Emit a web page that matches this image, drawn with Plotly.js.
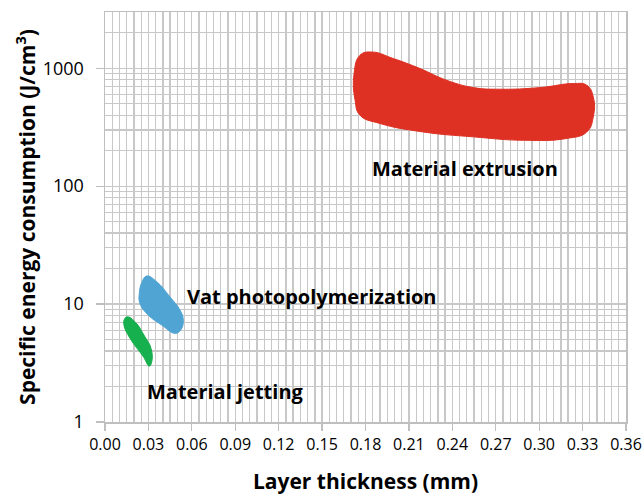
<!DOCTYPE html>
<html><head><meta charset="utf-8">
<script src="https://cdn.plot.ly/plotly-3.0.1.min.js"></script>
<style>html,body{margin:0;padding:0;background:#fff}</style>
</head><body><div id="chart" style="width:644px;height:496px"></div>
<script>
// Region outlines (layer thickness mm, specific energy J/cm3)
const extrusionX = [0.1762,0.1843,0.1993,0.2177,0.2361,0.2545,0.2729,0.3006,0.3236,0.3329,0.3374,0.3374,0.3329,0.3191,0.2891,0.2545,0.2200,0.1900,0.1762,0.1728,0.1721];
const extrusionY = [1289,1374,1208,994,791,686,664,686,742,718,571,387,288,254,245,262,288,340,400,535,902];
const vatX = [0.0288,0.0357,0.0449,0.0518,0.0541,0.0523,0.0484,0.0392,0.0299,0.0242,0.0237,0.0256];
const vatY = [17.3,15.5,11.5,8.9,7.32,6.02,5.65,6.64,8.07,10.1,12.3,15.4];
const jetX = [0.0154,0.0207,0.0276,0.0318,0.0323,0.0306,0.0265,0.0173,0.0131,0.0135];
const jetY = [7.8,7.08,5.28,4.21,3.24,2.98,3.58,5.12,6.64,7.46];
const regionNames = ["Material extrusion","Vat photopolymerization","Material jetting"];
const xTicks = [0,0.03,0.06,0.09,0.12,0.15,0.18,0.21,0.24,0.27,0.30,0.33,0.36];
const xTickText = xTicks.map(v=>v.toFixed(2));
const yTicks = [1,10,100,1000];
const yTickText = ['1','10','100','1000'];

function blob(x,y,color,name){
  return {x:x.concat([x[0]]), y:y.concat([y[0]]), type:'scatter', mode:'lines', fill:'toself',
    fillcolor:color, line:{color:color, width:1, shape:'spline', smoothing:1.3}, name:name, hoverinfo:'skip'};
}
const data = [
  blob(extrusionX, extrusionY, '#de3124', regionNames[0]),
  blob(vatX, vatY, '#4fa4d4', regionNames[1]),
  blob(jetX, jetY, '#17b04f', regionNames[2])
];
const grid = '#c8c8c8';
const fam = '"Open Sans", sans-serif';
const labelFont = {size:20, family:fam, color:'#000'};
const titleFont = {size:21, family:fam, color:'#000'};
const layout = {
  width:644, height:496, showlegend:false,
  paper_bgcolor:'#fff', plot_bgcolor:'#fff',
  margin:{l:105, r:18, t:12, b:74},
  font:{family:fam, color:'#000'},
  xaxis:{range:[0,0.36], tickvals:xTicks, ticktext:xTickText, showgrid:true, gridcolor:grid, gridwidth:1.3,
    minor:{dtick:0.005, tick0:0, showgrid:true, gridcolor:grid, gridwidth:1.3},
    ticks:'outside', ticklen:7, tickcolor:'#bfbfbf', tickwidth:1.3,
    showline:true, linecolor:'#bfbfbf', linewidth:1.5, mirror:true, zeroline:false,
    tickfont:{size:16, family:fam, color:'#000'},
    title:{text:'<b>Layer thickness (mm)</b>', font:titleFont, standoff:20}},
  yaxis:{type:'log', range:[0, Math.log10(3000)], tickvals:yTicks, ticktext:yTickText,
    showgrid:true, gridcolor:grid, gridwidth:1.3,
    minor:{dtick:'D1', showgrid:true, gridcolor:grid, gridwidth:1.3},
    ticks:'outside', ticklen:8, tickcolor:'#bfbfbf', tickwidth:1.3, ticklabelstandoff:8,
    showline:true, linecolor:'#bfbfbf', linewidth:1.5, mirror:true, zeroline:false,
    tickfont:{size:18, family:fam, color:'#000'},
    title:{text:'<b>Specific energy consumption (J/cm<sup>3</sup>)</b>', font:titleFont, standoff:1}},
  annotations:[
    {x:0.2485, y:Math.log10(142), xref:'x', yref:'y', text:'<b>'+regionNames[0]+'</b>', showarrow:false, font:labelFont},
    {x:0.0555, y:Math.log10(11.7), xref:'x', yref:'y', xanchor:'left', text:'<b>'+regionNames[1]+'</b>', showarrow:false, font:labelFont},
    {x:0.0275, y:Math.log10(1.83), xref:'x', yref:'y', xanchor:'left', text:'<b>'+regionNames[2]+'</b>', showarrow:false, font:labelFont}
  ]
};
Plotly.newPlot('chart', data, layout, {displayModeBar:false, staticPlot:true});
</script></body></html>
